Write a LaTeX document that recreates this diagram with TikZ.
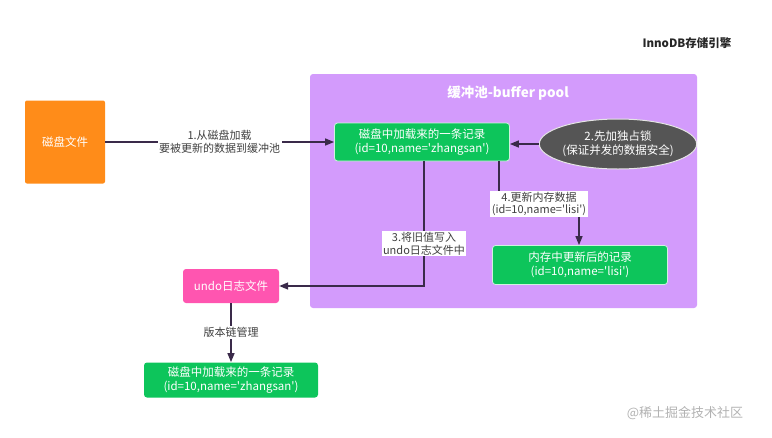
\documentclass[tikz,border=0pt]{standalone}
\usepackage{fontspec}
\setmainfont{Noto Sans CJK SC}
\usepackage{tikz}
\usetikzlibrary{arrows.meta,shapes.geometric}
\definecolor{poolviolet}{HTML}{D39BFC}
\definecolor{recgreen}{HTML}{0DC55B}
\definecolor{diskorange}{HTML}{FF8C19}
\definecolor{undopink}{HTML}{FF55B0}
\definecolor{lockgray}{HTML}{555555}
\definecolor{linedark}{HTML}{3A2A4A}
\newcommand{\sq}{\textquotesingle}

\begin{document}
\begin{tikzpicture}[x=1pt,y=-1pt,
  rec/.style={draw=white!80!recgreen,line width=0.8pt,fill=recgreen,rounded corners=3pt,
    text=white,align=center,inner sep=0pt,minimum width=175pt,minimum height=38pt,font=\fontsize{11.5}{13.5}\selectfont},
  conn/.style={draw=linedark,line width=1.4pt,-{Triangle[length=9pt,width=7pt]}},
  lbl/.style={fill=white,text=black!75,align=center,inner sep=1.5pt,font=\fontsize{11}{12.5}\selectfont}]
\useasboundingbox (0,0) rectangle (772,437);
%\draw[help lines,step=50] (0,0) grid (772,437);
\fill[poolviolet,rounded corners=3pt] (310,74) rectangle (697,308);
\node[text=white,font=\bfseries\fontsize{13.5}{15}\selectfont] (pool) at (508,93) {缓冲池-buffer pool};
\node[font=\bfseries\fontsize{11.5}{13}\selectfont,text=black!85] (engine) at (687,43) {InnoDB存储引擎};
\node[fill=diskorange,rounded corners=2pt,text=white,inner sep=0pt,minimum width=80pt,minimum height=83pt,
  font=\fontsize{11.5}{13}\selectfont] (disk) at (65,142) {磁盘文件};
\node[rec] (g1) at (422,142) {磁盘中加载来的一条记录\\(id=10,name=\sq zhangsan\sq)};
\node[ellipse,draw=white!85!lockgray,line width=1pt,fill=lockgray,text=white,align=center,inner sep=0pt,
  minimum width=146pt,minimum height=50pt,font=\fontsize{11.5}{13.5}\selectfont] (lock) at (618,144) {2.先加独占锁\\(保证并发的数据安全)};
\node[rec,minimum height=39pt] (g2) at (580,265) {内存中更新后的记录\\(id=10,name=\sq lisi\sq)};
\node[fill=undopink,rounded corners=3pt,text=white,inner sep=0pt,minimum width=96pt,minimum height=34pt,
  font=\fontsize{11.5}{13}\selectfont] (undo) at (231,286) {undo日志文件};
\node[rec,draw=none,minimum width=174pt,minimum height=35pt] (g3) at (231,380) {磁盘中加载来的一条记录\\(id=10,name=\sq zhangsan\sq)};
\node[text=black!30,font=\fontsize{13}{14}\selectfont] (mark) at (685,413) {@稀土掘金技术社区};
\coordinate (c3) at (424,287);
\coordinate (c4a) at (499,204);
\coordinate (c4b) at (579,204);
\draw[conn] (disk) to node[lbl] {1.从磁盘加载\\要被更新的数据到缓冲池} (g1);
\draw[conn] (lock.west) -- (lock.west -| g1.east);
\draw[conn] (g1.south -| c3) |- node[lbl,pos=0.33] {3.将旧值写入\\undo日志文件中} (undo.east);
\draw[conn] (g1.south -| c4a) -- (c4a) -- node[lbl] {4.更新内存数据\\(id=10,name=\sq lisi\sq)} (c4b) -- (g2.north -| c4b);
\draw[conn] (undo) to node[lbl] {版本链管理} (g3);
\end{tikzpicture}
\end{document}
